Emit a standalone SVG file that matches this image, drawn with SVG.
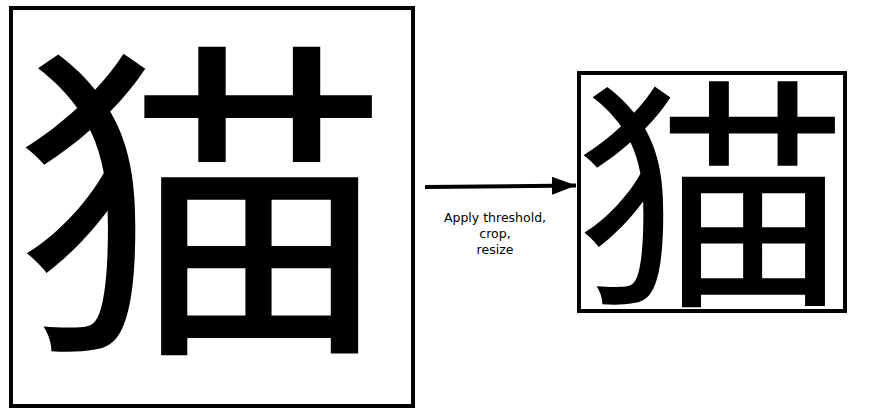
<svg xmlns="http://www.w3.org/2000/svg" width="870" height="417" viewBox="0 0 870 417">
<style>
.frame{fill:#fff;stroke:#000;stroke-width:4}
.glyph{font-family:"Noto Sans CJK SC","Noto Sans CJK JP",sans-serif;font-weight:400;fill:#000;text-anchor:middle}
.label{font-family:"DejaVu Sans",sans-serif;font-size:12.5px;fill:#000;text-anchor:middle}
</style>
<defs>
<marker id="ah" markerWidth="24" markerHeight="18" refX="24" refY="9" orient="auto" markerUnits="userSpaceOnUse">
<path d="M0,0 L24,9 L0,18 Z" fill="#000"/>
</marker>
</defs>
<rect width="870" height="417" fill="#fff"/>
<g id="source">
<rect class="frame" x="11" y="8" width="402" height="398"/>
<text class="glyph" transform="translate(202.5,329) scale(1.13,1)" font-size="336">猫</text>
</g>
<g id="result">
<rect class="frame" x="579" y="73" width="266" height="238"/>
<text class="glyph" transform="translate(712,288) scale(1.12,1)" font-size="246">猫</text>
</g>
<g id="connectors">
<line x1="425" y1="187" x2="576" y2="185.5" stroke="#000" stroke-width="4" marker-end="url(#ah)"/>
<text class="label"><tspan x="495" y="222">Apply threshold,</tspan><tspan x="495" y="238">crop,</tspan><tspan x="495" y="254">resize</tspan></text>
</g>
</svg>
